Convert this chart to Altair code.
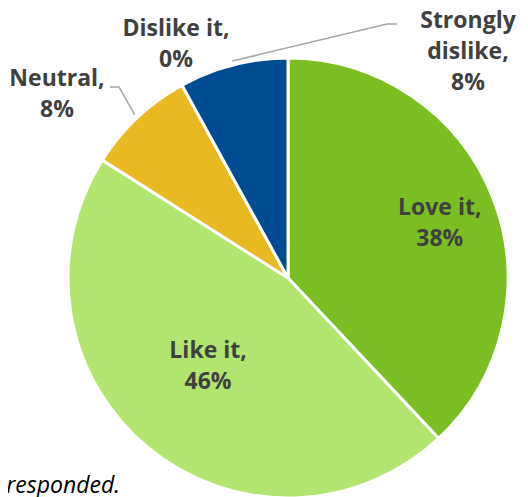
import math
import altair as alt
import pandas as pd

# ---- data ----
categories = ["Love it", "Like it", "Neutral", "Dislike it", "Strongly dislike"]
values = [38, 46, 8, 0, 8]
label_lines = ["Love it,\n38%", "Like it,\n46%", "Neutral,\n8%", "Dislike it,\n0%", "Strongly\ndislike,\n8%"]
colors = ["#7BBE23", "#B2E56F", "#E8B920", "#7F7F7F", "#004C92"]
footnote = "responded."

# ---- layout / style ----
W, H = 512, 489
CX, CY, R = 280, 270, 220
FONT = "Open Sans"
TXT = "#404040"
inside = {"Love it": dict(radius=160, dx=3, dy=-11), "Like it": dict(radius=105, dx=-13, dy=-8)}
outside = {"Neutral": (49, 71), "Dislike it": (168, 21), "Strongly dislike": (460, 13)}
leader_ends = {"Neutral": [(111, 79), (102, 79)], "Strongly dislike": [(379, 16), (389, 16)]}

df = pd.DataFrame({"category": categories, "value": values,
                   "label": label_lines, "order": list(range(len(categories)))})

theta_scale = alt.Scale(domain=[0, 100], range=[0, 2 * math.pi])

base = alt.Chart(df).transform_stack(
    stack="value", groupby=[], sort=[alt.SortField("order")], as_=["v0", "v1"]
).transform_calculate(mid="(datum.v0 + datum.v1) / 2")

arcs = base.mark_arc(outerRadius=R, stroke="white", strokeWidth=3).encode(
    theta=alt.Theta("v0:Q", scale=theta_scale, stack=None),
    theta2="v1:Q",
    color=alt.Color("category:N", scale=alt.Scale(domain=categories, range=colors), legend=None),
    x=alt.value(CX), y=alt.value(CY),
)

text_kw = dict(font=FONT, fontSize=23, fontWeight="bold", color=TXT, lineBreak="\n",
               lineHeight=31, align="center", baseline="middle")

layers = [arcs]
for cat, st in inside.items():
    layers.append(
        base.transform_filter(alt.datum.category == cat)
        .mark_text(radius=st["radius"], dx=st["dx"], dy=st["dy"], **text_kw)
        .encode(theta=alt.Theta("mid:Q", scale=theta_scale, stack=None),
                text="label:N", x=alt.value(CX), y=alt.value(CY))
    )
for cat, (px, py) in outside.items():
    layers.append(
        base.transform_filter(alt.datum.category == cat)
        .mark_text(**text_kw)
        .encode(text="label:N", x=alt.value(px), y=alt.value(py))
    )

# leader lines: start on slice edge at its mid angle
rows = []
for cat, pts in leader_ends.items():
    i = categories.index(cat)
    mid = sum(values[:i]) + values[i] / 2
    ang = 2 * math.pi * mid / 100
    sx = CX + (R + 4) * math.sin(ang)
    sy = CY - (R + 4) * math.cos(ang)
    rows.append({"category": cat, "step": 0, "px": sx, "py": sy})
    for k, (ex, ey) in enumerate(pts):
        rows.append({"category": cat, "step": k + 1, "px": ex, "py": ey})
leaders = alt.Chart(pd.DataFrame(rows)).mark_line(color="#A6A6A6", strokeWidth=1.5).encode(
    x=alt.X("px:Q", scale=None), y=alt.Y("py:Q", scale=None),
    detail="category:N", order="step:Q",
)
layers.append(leaders)

foot = alt.Chart(pd.DataFrame({"t": [footnote]})).mark_text(
    font=FONT, fontStyle="italic", fontSize=23, align="right", baseline="alphabetic", color="black"
).encode(text="t:N", x=alt.value(112), y=alt.value(485))
layers.append(foot)

chart = alt.layer(*layers).properties(
    width=W, height=H, padding=0, autosize="none"
).configure_view(strokeWidth=0)

chart.save("out.html", embed_options={"renderer": "svg", "actions": False})
